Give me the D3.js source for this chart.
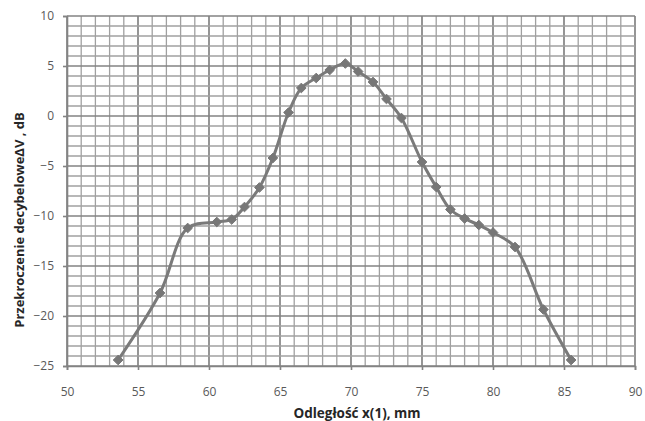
<!DOCTYPE html>
<html>
<head>
<meta charset="utf-8">
<script src="https://cdn.jsdelivr.net/npm/d3@7"></script>
<style>
  body { margin: 0; background: #fff; }
  .tick text { font-family: "Open Sans", sans-serif; font-size: 12px; fill: #595959; }
  .axis-title { font-family: "Open Sans", sans-serif; font-size: 13.5px; font-weight: bold; fill: #262626; }
</style>
</head>
<body>
<div id="chart"></div>
<script>
// measured points, x in mm, y in dB
var xVals = [53.6, 56.55, 58.5, 60.55, 61.6, 62.5, 63.55, 64.5, 65.6, 66.5, 67.55, 68.5, 69.6, 70.5, 71.55, 72.5, 73.55,
             75.0, 76.0, 77.0, 78.0, 79.0, 80.0, 81.55, 83.55, 85.5];
var yVals = [-24.4, -17.7, -11.2, -10.6, -10.35, -9.1, -7.15, -4.2, 0.35, 2.8, 3.8, 4.6, 5.25, 4.45, 3.4, 1.7, -0.2,
             -4.6, -7.1, -9.35, -10.25, -10.9, -11.65, -13.1, -19.35, -24.4];
var xTicks = [50, 55, 60, 65, 70, 75, 80, 85, 90];
var yTicks = [10, 5, 0, -5, -10, -15, -20, -25];

var margin = {top: 16, right: 10, bottom: 55, left: 67},
    width = 635 - margin.left,
    height = 366 - margin.top;

var svg = d3.select("#chart")
  .append("svg")
    .attr("width", 645)
    .attr("height", 421)
  .append("g")
    .attr("transform", "translate(" + margin.left + "," + margin.top + ")");

var x = d3.scaleLinear().domain([50, 90]).range([0, width]);
var y = d3.scaleLinear().domain([-25, 10]).range([height, 0]);

// grid every 1 unit, darker every 5
svg.append("g")
  .selectAll("line")
  .data(d3.range(50, 91, 1))
  .enter().append("line")
    .attr("x1", function(d) { return x(d); })
    .attr("x2", function(d) { return x(d); })
    .attr("y1", 0).attr("y2", height)
    .style("stroke", function(d) { return d % 5 === 0 ? "#838383" : "#a0a0a0"; })
    .style("stroke-width", function(d) { return d % 5 === 0 ? 1.7 : 1.3; });

svg.append("g")
  .selectAll("line")
  .data(d3.range(-25, 11, 1))
  .enter().append("line")
    .attr("y1", function(d) { return y(d); })
    .attr("y2", function(d) { return y(d); })
    .attr("x1", 0).attr("x2", width)
    .style("stroke", function(d) { return d % 5 === 0 ? "#838383" : "#a0a0a0"; })
    .style("stroke-width", function(d) { return d % 5 === 0 ? 1.7 : 1.3; });

// axes
svg.append("g")
  .attr("transform", "translate(0," + height + ")")
  .call(d3.axisBottom(x).tickValues(xTicks).tickSize(4).tickPadding(17));
svg.append("g")
  .call(d3.axisLeft(y).tickValues(yTicks).tickSize(4).tickPadding(9));
svg.selectAll(".domain").style("stroke", "#838383").style("stroke-width", 1.6);
svg.selectAll(".tick line").style("stroke", "#838383").style("stroke-width", 1.6);

// smoothed line
var pts = xVals.map(function(d, i) { return [d, yVals[i]]; });
var line = d3.line()
  .x(function(d) { return x(d[0]); })
  .y(function(d) { return y(d[1]); })
  .curve(d3.curveCatmullRom.alpha(0.5));

svg.append("path")
  .datum(pts)
  .attr("d", line)
  .style("fill", "none")
  .style("stroke", "#7a7a7a")
  .style("stroke-width", 3);

// diamond markers
svg.selectAll("path.marker")
  .data(pts)
  .enter().append("path")
    .attr("class", "marker")
    .attr("d", d3.symbol().type(d3.symbolDiamond2).size(60))
    .attr("transform", function(d) { return "translate(" + x(d[0]) + "," + y(d[1]) + ")"; })
    .style("fill", "#777")
    .style("stroke", "#777")
    .style("stroke-width", 1);

// axis titles
svg.append("text")
  .attr("class", "axis-title")
  .attr("text-anchor", "middle")
  .attr("x", 290)
  .attr("y", height + 52)
  .text("Odległość x(1), mm");

svg.append("text")
  .attr("class", "axis-title")
  .attr("text-anchor", "middle")
  .style("font-size", "13px")
  .attr("transform", "translate(" + (-43) + "," + 204 + ") rotate(-90)")
  .text("Przekroczenie decybelowe\u0394V , dB");
</script>
</body>
</html>
